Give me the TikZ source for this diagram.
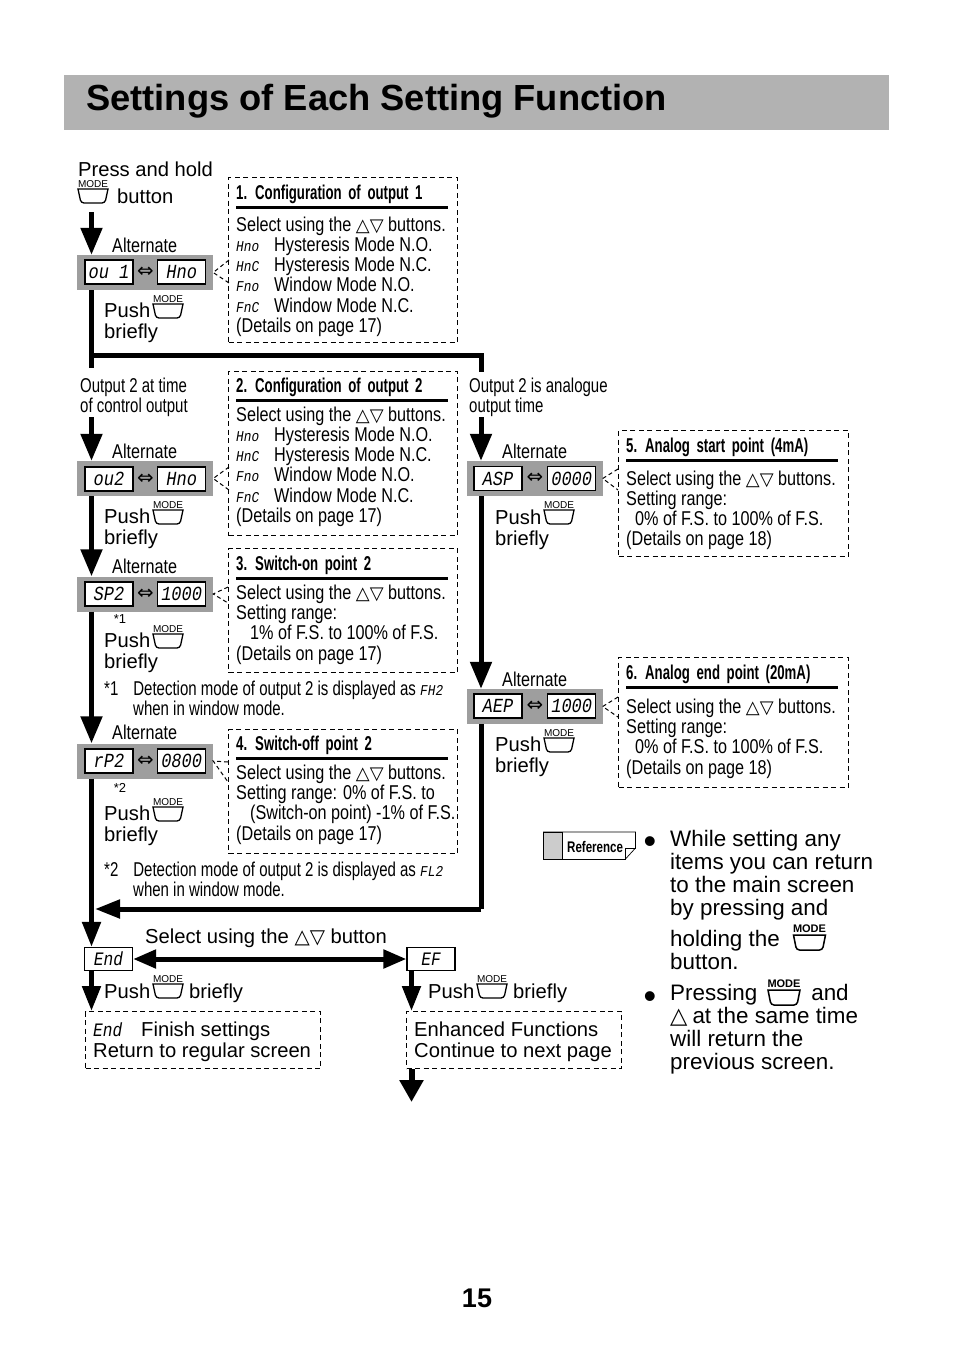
\documentclass[tikz,border=0pt]{standalone}
\usepackage{fontspec}
\setmainfont{Liberation Sans}
\newfontfamily\condf[FakeStretch=.81]{Liberation Sans}
\newfontfamily\notef[FakeStretch=.75]{Liberation Sans}
\newfontfamily\titlef[FakeStretch=.66]{Liberation Sans}
\newfontfamily\symf[Scale=.9]{DejaVu Sans}
\newfontfamily\segf[FakeStretch=.85]{Liberation Mono}
\newcommand{\updown}{{\symf △▽}}
\newcommand{\segtext}[1]{{\segf\itshape\fontsize{15}{15}\selectfont #1}}
\usetikzlibrary{arrows.meta, positioning}

\begin{document}
\begin{tikzpicture}[
x=1pt, y=-1pt,
strip/.style={fill=black!38, minimum width=136pt, minimum height=35pt, inner sep=0pt},
disp/.style={draw, line width=1.3pt, fill=white, minimum width=48pt, minimum height=24pt, inner sep=0pt, font=\segf\itshape\fontsize{20}{20}\selectfont},
swapsym/.style={minimum width=23pt, inner sep=0pt, font=\symf\fontsize{22}{22}\selectfont},
dashbox/.style={draw, line width=1.4pt, dash pattern=on 5pt off 3.5pt, anchor=north west, inner sep=0pt},
dashlink/.style={draw, line width=1pt, dash pattern=on 4pt off 3pt},
paneltitle/.style={inner sep=0pt, text width=212pt, text height=14pt, text depth=8pt, font=\titlef\bfseries\fontsize{20}{20}\selectfont},
titlerule/.style={line width=2.5pt},
body/.style={inner sep=0pt, align=left, execute at begin node={\rule{0pt}{14pt}}, font=\condf\fontsize{20}{20.3}\selectfont},
lbl/.style={anchor=north west, inner sep=0pt, align=left, execute at begin node={\rule{0pt}{15pt}}, font=\fontsize{20.2}{21}\selectfont},
lblcond/.style={lbl, font=\condf\fontsize{20}{19.5}\selectfont},
lblnote/.style={lbl, font=\notef\fontsize{20}{19.5}\selectfont},
lblbig/.style={lbl, font=\fontsize{22.4}{23}\selectfont},
bulletdot/.style={inner sep=0pt, font=\fontsize{36}{36}\selectfont},
flow/.style={line width=5pt, -{Triangle[length=27pt, width=21pt]}},
flowshort/.style={line width=5pt, -{Triangle[length=25pt, width=18pt]}},
flowboth/.style={line width=5pt, {Triangle[length=23pt, width=18pt]}-{Triangle[length=23pt, width=18pt]}},
flowline/.style={line width=5pt},
modebtn/.pic={
  \node[inner sep=0pt, font=\fontsize{10}{10}\selectfont] (-label) at (0,-5) {MODE};
  \draw[line width=1.3pt] (-15,0) -- (15,0) [rounded corners=3pt] -- (12,14) -- (-12,14) [sharp corners] -- cycle;
},
modebtnbig/.pic={
  \node[inner sep=0pt, font=\bfseries\fontsize{11}{11}\selectfont] (-label) at (0,-6) {MODE};
  \draw[line width=1.5pt] (-16,0) -- (16,0) [rounded corners=3pt] -- (13,15) -- (-13,15) [sharp corners] -- cycle;
}
]
\useasboundingbox (0,0) rectangle (954,1354);

% ---------- HEADER ----------

\node[fill=black!30, minimum width=825pt, minimum height=55pt, anchor=north west, inner sep=0pt] (header) at (64,75) {};
\node[anchor=west, inner sep=0pt, font=\bfseries\fontsize{36.3}{37}\selectfont] (headertext) at (86,101) {Settings of Each Setting Function};

% ---------- OUTPUT 1 ----------

\node[lbl] (press) at (78,161) {Press and hold};
\pic (btn0) at (93,189) {modebtn};
\node[lbl] (button) at (117,188) {button};
\coordinate (start) at (91.5,212);

\node[lblcond] (alt1) at (112,237) {Alternate};
\node[strip] (strip1) at (145,272.5) {};
\node[disp] (ou1) at (109,272) {ou 1};
\node[swapsym, right=0pt of ou1] (sw1) {⇔};
\node[disp, right=0pt of sw1] (hno1) {Hno};
\node[lbl] (push1) at (104,303) {Push\\briefly};
\pic (btn1) at (168,304) {modebtn};

\node[dashbox, minimum width=229pt, minimum height=165pt] (panel1) at (228,177) {};
\node[paneltitle, below right=8pt and 8pt of panel1.north west] (title1) {\makebox[19pt][l]{1.}Configuration of output 1};
\node[body, below right=9pt and 0pt of title1.south west] (body1)
{Select using the \updown\ buttons.\\
\makebox[38pt][l]{\segtext{Hno}}Hysteresis Mode N.O.\\
\makebox[38pt][l]{\segtext{HnC}}Hysteresis Mode N.C.\\
\makebox[38pt][l]{\segtext{Fno}}Window Mode N.O.\\
\makebox[38pt][l]{\segtext{FnC}}Window Mode N.C.\\
(Details on page 17)};

% ---------- OUTPUT 2 AT TIME OF CONTROL OUTPUT ----------

\node[lblnote] (ctrl) at (80,378) {Output 2 at time\\of control output};
\coordinate (ctrlin) at (91.5,417);

\node[lblcond] (alt2) at (112,443) {Alternate};
\node[strip] (strip2) at (145,478.5) {};
\node[disp] (ou2) at (109,479) {ou2};
\node[swapsym, right=0pt of ou2] (sw2) {⇔};
\node[disp, right=0pt of sw2] (hno2) {Hno};
\node[lbl] (push2) at (104,509) {Push\\briefly};
\pic (btn2) at (168,510) {modebtn};

\node[dashbox, minimum width=229pt, minimum height=164pt] (panel2) at (228,371) {};
\node[paneltitle, below right=7pt and 8pt of panel2.north west] (title2) {\makebox[19pt][l]{2.}Configuration of output 2};
\node[body, below right=6pt and 0pt of title2.south west] (body2)
{Select using the \updown\ buttons.\\
\makebox[38pt][l]{\segtext{Hno}}Hysteresis Mode N.O.\\
\makebox[38pt][l]{\segtext{HnC}}Hysteresis Mode N.C.\\
\makebox[38pt][l]{\segtext{Fno}}Window Mode N.O.\\
\makebox[38pt][l]{\segtext{FnC}}Window Mode N.C.\\
(Details on page 17)};

\node[lblcond] (alt3) at (112,558) {Alternate};
\node[strip] (strip3) at (145,594) {};
\node[disp] (sp2) at (109,594) {SP2};
\node[swapsym, right=0pt of sp2] (sw3) {⇔};
\node[disp, right=0pt of sw3] (val3) {1000};
\node[inner sep=0pt, font=\fontsize{13}{13}\selectfont] (star1) at (120,619) {*1};
\node[lbl] (push3) at (104,633) {Push\\briefly};
\pic (btn3) at (168,634) {modebtn};

\node[dashbox, minimum width=229pt, minimum height=124pt] (panel3) at (228,548) {};
\node[paneltitle, below right=8pt and 8pt of panel3.north west] (title3) {\makebox[19pt][l]{3.}Switch-on point 2};
\node[body, below right=6pt and 0pt of title3.south west] (body3)
{Select using the \updown\ buttons.\\
Setting range:\\
\hspace*{14pt}1\% of F.S. to 100\% of F.S.\\
(Details on page 17)};

\node[lblnote] (note1) at (104,681) {*1\hspace{15pt}Detection mode of output 2 is displayed as \segtext{FH2}\\
\hspace*{29pt}when in window mode.};

\node[lblcond] (alt4) at (112,724) {Alternate};
\node[strip] (strip4) at (145,761) {};
\node[disp] (rp2) at (109,761) {rP2};
\node[swapsym, right=0pt of rp2] (sw4) {⇔};
\node[disp, right=0pt of sw4] (val4) {0800};
\node[inner sep=0pt, font=\fontsize{13}{13}\selectfont] (star2) at (120,788) {*2};
\node[lbl] (push4) at (104,806) {Push\\briefly};
\pic (btn4) at (168,807) {modebtn};

\node[dashbox, minimum width=229pt, minimum height=124pt] (panel4) at (228,729) {};
\node[paneltitle, below right=7pt and 8pt of panel4.north west] (title4) {\makebox[19pt][l]{4.}Switch-off point 2};
\node[body, below right=6pt and 0pt of title4.south west] (body4)
{Select using the \updown\ buttons.\\
Setting range: 0\% of F.S. to\\
\hspace*{14pt}(Switch-on point) -1\% of F.S.\\
(Details on page 17)};

\node[lblnote] (note2) at (104,862) {*2\hspace{15pt}Detection mode of output 2 is displayed as \segtext{FL2}\\
\hspace*{29pt}when in window mode.};

% ---------- OUTPUT 2 IS ANALOGUE OUTPUT TIME ----------

\node[lblnote] (analog) at (469,378) {Output 2 is analogue\\output time};
\coordinate (analogin) at (481,417);
\coordinate (turn) at (481,355.5);
\coordinate (turnleft) at (91.5,355.5);
\coordinate (analogstub) at (481,372);
\coordinate (ctrlstub) at (91.5,368);

\node[lblcond] (alt5) at (502,443) {Alternate};
\node[strip] (strip5) at (534.5,478.5) {};
\node[disp] (asp) at (498,478.5) {ASP};
\node[swapsym, right=0pt of asp, minimum width=24pt] (sw5) {⇔};
\node[disp, right=0pt of sw5] (val5) {0000};
\node[lbl] (push5) at (495,510) {Push\\briefly};
\pic (btn5) at (559,510) {modebtn};

\node[dashbox, minimum width=230pt, minimum height=126pt] (panel5) at (618,430) {};
\node[paneltitle, below right=8pt and 8pt of panel5.north west] (title5) {\makebox[19pt][l]{5.}Analog start point (4mA)};
\node[body, below right=10pt and 0pt of title5.south west] (body5)
{Select using the \updown\ buttons.\\
Setting range:\\
\hspace*{9pt}0\% of F.S. to 100\% of F.S.\\
(Details on page 18)};

\node[lblcond] (alt6) at (502,671) {Alternate};
\node[strip] (strip6) at (534.5,706.5) {};
\node[disp] (aep) at (498,706) {AEP};
\node[swapsym, right=0pt of aep, minimum width=24pt] (sw6) {⇔};
\node[disp, right=0pt of sw6] (val6) {1000};
\node[lbl] (push6) at (495,737) {Push\\briefly};
\pic (btn6) at (559,738) {modebtn};

\node[dashbox, minimum width=230pt, minimum height=130pt] (panel6) at (618,657) {};
\node[paneltitle, below right=8pt and 8pt of panel6.north west] (title6) {\makebox[19pt][l]{6.}Analog end point (20mA)};
\node[body, below right=11pt and 0pt of title6.south west] (body6)
{Select using the \updown\ buttons.\\
Setting range:\\
\hspace*{9pt}0\% of F.S. to 100\% of F.S.\\
(Details on page 18)};

% ---------- END / ENHANCED FUNCTIONS ----------

\coordinate (mergeright) at (481,909);
\coordinate (mergeleft) at (95,909);

\node[lbl] (selectall) at (145,928) {Select using the {\symf\fontsize{22}{21}\selectfont△▽} button};
\node[disp, font=\segf\itshape\fontsize{19}{19}\selectfont, line width=1.2pt, minimum height=23pt] (endbox) at (108.5,959) {End};
\node[disp, font=\segf\itshape\fontsize{19}{19}\selectfont, line width=1.2pt, minimum height=23pt] (efbox) at (431,959) {EF};

\node[lbl] (pushend) at (104,983) {Push\hspace{39pt}briefly};
\pic (btnend) at (168,984) {modebtn};
\node[lbl] (pushef) at (428,983) {Push\hspace{39pt}briefly};
\pic (btnef) at (492,984) {modebtn};

\node[dashbox, minimum width=235pt, minimum height=57pt] (finish) at (85,1011) {};
\node[lbl, below right=11pt and 8pt of finish.north west] (finishtext)
{\makebox[48pt][l]{\segf\itshape\fontsize{19}{19}\selectfont End}Finish settings\\Return to regular screen};
\node[dashbox, minimum width=215pt, minimum height=57pt] (enhanced) at (406,1011) {};
\node[lbl, below right=11pt and 8pt of enhanced.north west] (enhancedtext)
{Enhanced Functions\\Continue to next page};
\coordinate (nextpage) at (411.5,1102);

% ---------- REFERENCE NOTE ----------

\draw[line width=.7pt, fill=white] (543.5,832) -- (635.5,832) -- (635.5,848) -- (625,859.5) -- (543.5,859.5) -- cycle;
\draw[line width=.7pt, fill=black!20] (543.5,832) rectangle (562,859.5);
\draw[line width=.7pt] (635.5,848) -- (625,848) -- (625,859.5);
\node[inner sep=0pt, anchor=west, font=\notef\bfseries\fontsize{15.4}{16}\selectfont] (reftext) at (567,846.5) {Reference};

\node[bulletdot] (bullet1) at (650,845) {•};
\node[lblbig] (note3) at (670,830) {While setting any\\items you can return\\to the main screen\\by pressing and};
\node[lblbig] (note4) at (670,930) {holding the\\button.};
\pic (btnbig1) at (809.5,935) {modebtnbig};
\node[bulletdot] (bullet2) at (650,1000) {•};
\node[lblbig] (note5) at (670,984) {Pressing\hspace{54pt}and\\{\symf\fontsize{25}{23}\selectfont△}\hspace{5pt}at the same time\\will return the\\previous screen.};
\pic (btnbig2) at (784,990) {modebtnbig};

\node[inner sep=0pt, font=\bfseries\fontsize{27}{27}\selectfont] (pagenum) at (477,1298) {15};

% ---------- ARROWS ----------

\draw[flow] (start) -- (strip1.north -| start);
\draw[flowline] (strip1.south -| start) -- (ctrlstub);
\draw[flowline] (turnleft) -- (turn) -- (analogstub);
\draw[flow] (ctrlin) -- (strip2.north -| ctrlin);
\draw[flow] (analogin) -- (strip5.north -| analogin);
\draw[flow] (strip2.south -| start) -- (strip3.north -| start);
\draw[flow] (strip3.south -| start) -- (strip4.north -| start);
\draw[flowshort] (strip4.south -| start) -- (start |- endbox.north);
\draw[flow] (strip5.south -| analogin) -- (strip6.north -| analogin);
\draw[flowline] (strip6.south -| analogin) -- (mergeright);
\draw[flowshort] (mergeright) -- (mergeleft);
\draw[flowboth] (endbox.east) -- (efbox.west);
\draw[flowshort] (endbox.south -| start) -- (finish.north -| start);
\draw[flowshort] (efbox.south -| nextpage) -- (enhanced.north -| nextpage);
\draw[line width=6pt, -{Triangle[length=22pt, width=23pt]}] (enhanced.south -| nextpage) -- (nextpage);

\coordinate (link1a) at (229,260);
\coordinate (link1b) at (229,283);
\draw[dashlink] (link1a) -- (strip1.east) -- (link1b);
\coordinate (link2a) at (229,467);
\coordinate (link2b) at (229,490);
\draw[dashlink] (link2a) -- (strip2.east) -- (link2b);
\coordinate (link3a) at (228,587);
\coordinate (link3b) at (228,603);
\draw[dashlink] (link3a) -- (strip3.east) -- (link3b);
\coordinate (link4a) at (228,762);
\coordinate (link4b) at (228,782);
\draw[dashlink] (link4a) -- (strip4.east) -- (link4b);
\coordinate (link5a) at (618,469);
\coordinate (link5b) at (618,490);
\draw[dashlink] (link5a) -- (strip5.east) -- (link5b);
\coordinate (link6a) at (618,697);
\coordinate (link6b) at (618,717);
\draw[dashlink] (link6a) -- (strip6.east) -- (link6b);

\draw[titlerule] (title1.south west) -- (title1.south east);
\draw[titlerule] (title2.south west) -- (title2.south east);
\draw[titlerule] (title3.south west) -- (title3.south east);
\draw[titlerule] (title4.south west) -- (title4.south east);
\draw[titlerule] (title5.south west) -- (title5.south east);
\draw[titlerule] (title6.south west) -- (title6.south east);

\end{tikzpicture}
\end{document}
